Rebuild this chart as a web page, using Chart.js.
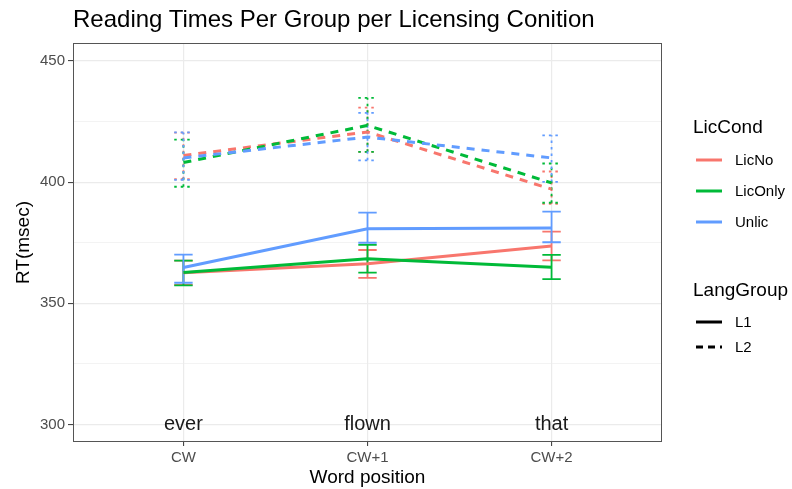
<!DOCTYPE html>
<html>
<head>
<meta charset="utf-8">
<script src="https://cdn.jsdelivr.net/npm/chart.js@4/dist/chart.umd.min.js"></script>
<style>
  html, body { margin: 0; padding: 0; background: #ffffff; }
  body { width: 792px; height: 489px; position: relative; overflow: hidden; font-family: "Liberation Sans", Arial, sans-serif; }
  #wrap { position: absolute; left: 0; top: 0; width: 792px; height: 489px; }
  .t { position: absolute; white-space: nowrap; color: #000; }
  .key { position: absolute; }
</style>
</head>
<body>
<div id="wrap"><canvas id="c" width="792" height="489"></canvas></div>
<div class="t" id="title" style="left:73px; top:5px; font-size:24px; line-height:28px; color:#000;">Reading Times Per Group per Licensing Conition</div>
<div id="legend"></div>
<script>
// ---- data ----
const categories = ['CW', 'CW+1', 'CW+2'];
const words = ['ever', 'flown', 'that'];
const licConds = ['LicNo', 'LicOnly', 'Unlic'];
const langGroups = ['L1', 'L2'];
const yTicks = [300, 325, 350, 375, 400, 425, 450];

// means
const L1_LicNo   = [362.6, 366.3, 373.7];
const L1_LicOnly = [362.7, 368.4, 364.9];
const L1_Unlic   = [364.8, 380.8, 381.1];
const L2_LicNo   = [411.0, 420.7, 397.1];
const L2_LicOnly = [408.1, 423.4, 399.7];
const L2_Unlic   = [410.0, 418.6, 410.0];

// error bar lower / upper
const L1_LicNo_lo   = [357.6, 360.5, 367.7];
const L1_LicNo_hi   = [367.6, 372.0, 379.6];
const L1_LicOnly_lo = [357.4, 362.7, 360.0];
const L1_LicOnly_hi = [367.6, 374.1, 370.0];
const L1_Unlic_lo   = [358.5, 375.0, 375.2];
const L1_Unlic_hi   = [370.1, 387.4, 387.8];
const L2_LicNo_lo   = [401.2, 412.5, 391.0];
const L2_LicNo_hi   = [420.4, 430.7, 404.4];
const L2_LicOnly_lo = [398.1, 412.5, 391.5];
const L2_LicOnly_hi = [417.5, 434.8, 407.7];
const L2_Unlic_lo   = [400.9, 409.0, 400.1];
const L2_Unlic_hi   = [420.5, 428.6, 419.3];

// ---- styles ----
const colors = { LicNo: '#F8766D', LicOnly: '#00BA38', Unlic: '#619CFF' };
const FONT = '"Liberation Sans", Arial, sans-serif';

const series = [
  { cond: 'LicNo',   grp: 'L1', mean: L1_LicNo,   lo: L1_LicNo_lo,   hi: L1_LicNo_hi },
  { cond: 'LicNo',   grp: 'L2', mean: L2_LicNo,   lo: L2_LicNo_lo,   hi: L2_LicNo_hi },
  { cond: 'LicOnly', grp: 'L1', mean: L1_LicOnly, lo: L1_LicOnly_lo, hi: L1_LicOnly_hi },
  { cond: 'LicOnly', grp: 'L2', mean: L2_LicOnly, lo: L2_LicOnly_lo, hi: L2_LicOnly_hi },
  { cond: 'Unlic',   grp: 'L1', mean: L1_Unlic,   lo: L1_Unlic_lo,   hi: L1_Unlic_hi },
  { cond: 'Unlic',   grp: 'L2', mean: L2_Unlic,   lo: L2_Unlic_lo,   hi: L2_Unlic_hi }
];

const datasets = series.map((s, k) => ({
  label: s.cond + '.' + s.grp,
  data: s.mean.map((v, i) => ({ x: i, y: v })),
  borderColor: colors[s.cond],
  backgroundColor: colors[s.cond],
  borderWidth: 3,
  borderDash: s.grp === 'L2' ? [8, 7] : [],
  borderCapStyle: 'butt',
  pointRadius: 0,
  pointHoverRadius: 0,
  tension: 0,
  fill: false,
  order: series.length - k
}));

const errorBars = {
  id: 'errorBars',
  beforeDatasetsDraw(chart) {
    const ctx = chart.ctx, xs = chart.scales.x, ys = chart.scales.y;
    const hw = Math.abs(xs.getPixelForValue(0.05) - xs.getPixelForValue(0));
    ctx.save();
    series.forEach(s => {
      ctx.strokeStyle = colors[s.cond];
      ctx.lineWidth = 1.8;
      ctx.setLineDash(s.grp === 'L2' ? [2.5, 4] : []);
      s.mean.forEach((m, i) => {
        const x = xs.getPixelForValue(i);
        const y1 = ys.getPixelForValue(s.lo[i]);
        const y2 = ys.getPixelForValue(s.hi[i]);
        ctx.beginPath();
        ctx.moveTo(x, y1); ctx.lineTo(x, y2);
        ctx.moveTo(x - hw, y1); ctx.lineTo(x + hw, y1);
        ctx.moveTo(x - hw, y2); ctx.lineTo(x + hw, y2);
        ctx.stroke();
      });
    });
    ctx.restore();
  }
};

const wordLabels = {
  id: 'wordLabels',
  afterDatasetsDraw(chart) {
    const ctx = chart.ctx, xs = chart.scales.x, ys = chart.scales.y;
    ctx.save();
    ctx.fillStyle = '#1a1a1a';
    ctx.font = '20px ' + FONT;
    ctx.textAlign = 'center';
    ctx.textBaseline = 'middle';
    words.forEach((w, i) => {
      ctx.fillText(w, xs.getPixelForValue(i), ys.getPixelForValue(300));
    });
    ctx.restore();
  }
};

const panelBorder = {
  id: 'panelBorder',
  afterDraw(chart) {
    const a = chart.chartArea, ctx = chart.ctx;
    ctx.save();
    ctx.strokeStyle = '#555555';
    ctx.lineWidth = 1;
    ctx.strokeRect(Math.round(a.left) + 0.5, Math.round(a.top) + 0.5,
                   Math.round(a.right - a.left) - 1, Math.round(a.bottom - a.top) - 1);
    ctx.restore();
  }
};

new Chart(document.getElementById('c'), {
  type: 'line',
  data: { datasets },
  options: {
    responsive: false,
    animation: false,
    events: [],
    layout: { padding: { top: 43, right: 130, left: 0, bottom: 0 } },
    plugins: { legend: { display: false }, tooltip: { enabled: false }, title: { display: false } },
    scales: {
      x: {
        type: 'linear',
        min: -0.6, max: 2.6,
        afterBuildTicks: (scale) => { scale.ticks = categories.map((c, i) => ({ value: i })); },
        afterFit: (scale) => { scale.height = 47; },
        ticks: {
          autoSkip: false, maxRotation: 0, padding: 3,
          color: '#4d4d4d', font: { family: FONT, size: 15 },
          callback: (v) => categories[v] !== undefined ? categories[v] : ''
        },
        grid: { color: '#EBEBEB', lineWidth: 1.2, tickLength: 4, tickColor: '#333333', tickWidth: 1 },
        border: { display: false },
        title: { display: true, text: 'Word position', color: '#000', font: { family: FONT, size: 19 }, padding: { top: 0, bottom: 0 } }
      },
      y: {
        type: 'linear',
        min: 292.8, max: 457.4,
        afterBuildTicks: (scale) => { scale.ticks = yTicks.map(v => ({ value: v })); },
        afterFit: (scale) => { scale.width = 73; },
        ticks: {
          padding: 3, color: '#4d4d4d', font: { family: FONT, size: 15 },
          callback: (v) => (v % 50 === 0 ? String(v) : '')
        },
        grid: {
          color: '#EBEBEB',
          lineWidth: (c) => (c.tick && c.tick.value % 50 === 0 ? 1.2 : 0.6),
          tickLength: 5,
          tickColor: (c) => (c.tick && c.tick.value % 50 === 0 ? '#333333' : 'rgba(0,0,0,0)'),
          tickWidth: 1
        },
        border: { display: false },
        title: { display: true, text: 'RT(msec)', color: '#000', font: { family: FONT, size: 19 }, padding: { top: 12, bottom: 0 } }
      }
    }
  },
  plugins: [errorBars, wordLabels, panelBorder]
});

// ---- legend (HTML) ----
const legend = document.getElementById('legend');
function addText(txt, left, cy, size) {
  const d = document.createElement('div');
  d.className = 't';
  d.textContent = txt;
  d.style.left = left + 'px';
  d.style.top = (cy - size * 0.6) + 'px';
  d.style.fontSize = size + 'px';
  d.style.lineHeight = (size * 1.2) + 'px';
  d.style.color = '#000';
  legend.appendChild(d);
}
function addKey(color, dashed, cy) {
  const ns = 'http://www.w3.org/2000/svg';
  const svg = document.createElementNS(ns, 'svg');
  svg.setAttribute('width', '28'); svg.setAttribute('height', '8');
  svg.setAttribute('class', 'key');
  svg.style.left = '695px'; svg.style.top = (cy - 4) + 'px';
  const ln = document.createElementNS(ns, 'line');
  ln.setAttribute('x1', '1'); ln.setAttribute('x2', '27');
  ln.setAttribute('y1', '4'); ln.setAttribute('y2', '4');
  ln.setAttribute('stroke', color); ln.setAttribute('stroke-width', '3');
  if (dashed) ln.setAttribute('stroke-dasharray', '7 5');
  svg.appendChild(ln);
  legend.appendChild(svg);
}
addText('LicCond', 693, 127, 19);
const condY = [160, 191, 222];
licConds.forEach((c, i) => { addKey(colors[c], false, condY[i]); addText(c, 735, condY[i], 15); });
addText('LangGroup', 693, 290, 19);
const grpY = [322, 347];
langGroups.forEach((g, i) => { addKey('#000', g === 'L2', grpY[i]); addText(g, 735, grpY[i], 15); });
</script>
</body>
</html>
